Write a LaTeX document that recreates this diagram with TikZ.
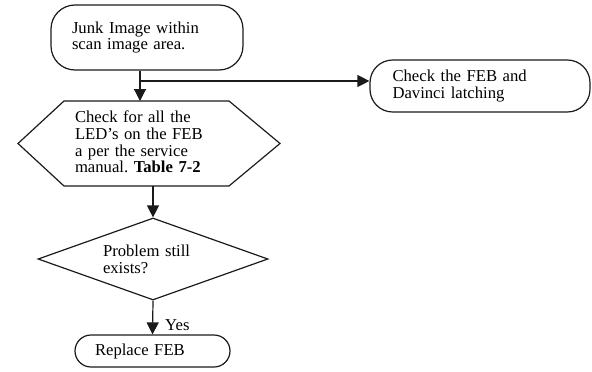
\documentclass[tikz,border=0pt]{standalone}
\usepackage{fontspec}
\setmainfont{Liberation Serif}
\usetikzlibrary{arrows.meta,shapes.geometric}
\definecolor{FCLine}{HTML}{1A1A1A}
\frenchspacing

\begin{document}
\begin{tikzpicture}[x=0.75pt,y=-0.75pt,
  flowtext/.style={font=\fontsize{12.5}{12.5}\selectfont,align=left,inner sep=0pt},
  term/.style={flowtext,draw=FCLine,line width=0.9pt},
  flowarr/.style={draw=FCLine,line width=0.9pt,-{Triangle[width=9pt,length=9pt]}}]
\path[use as bounding box] (0,0) rectangle (592,371);
% terminators
\node[term,rounded corners=18pt,minimum width=144pt,minimum height=48.75pt,text width=112.5pt] (junk) at (147,37.5) {Junk Image within\\scan image area.};
\node[term,rounded corners=17pt,minimum width=165pt,minimum height=39pt,text width=131.25pt] (latch) at (480,86) {Check the FEB and\\Davinci latching};
% hexagon
\node[flowtext,text width=112.5pt] (leds) at (150,142) {Check for all the\\LED’s on the FEB\\a per the service\\manual. \textbf{Table 7-2}};
\draw[FCLine,line width=0.9pt] (18,143.5) -- (64,101) -- (229,101) -- (280,143.5) -- (229,186) -- (64,186) -- cycle;
\coordinate (ledstop) at (140,101);
\coordinate (ledsbot) at (153,186);
% decision
\node[flowtext,draw=FCLine,line width=0.9pt,diamond,shape aspect=2.8,minimum width=172.5pt,minimum height=61.5pt,text width=75pt] (still) at (153,259) {Problem still\\exists?};
\node[term,rounded corners=12pt,minimum width=116.25pt,minimum height=24pt,text width=86.25pt] (replace) at (152.5,351) {Replace FEB};
% connectors
\coordinate (fork) at (140,81);
\draw[flowarr] (junk.south -| ledstop) -- (ledstop);
\draw[flowarr] (fork) -- (fork -| latch.west);
\draw[flowarr] (ledsbot) -- (still.north);
\draw[flowarr] (still.south) -- node[flowtext,pos=0.72,anchor=west,xshift=9pt] (yes) {Yes} (replace.north);
\end{tikzpicture}
\end{document}
